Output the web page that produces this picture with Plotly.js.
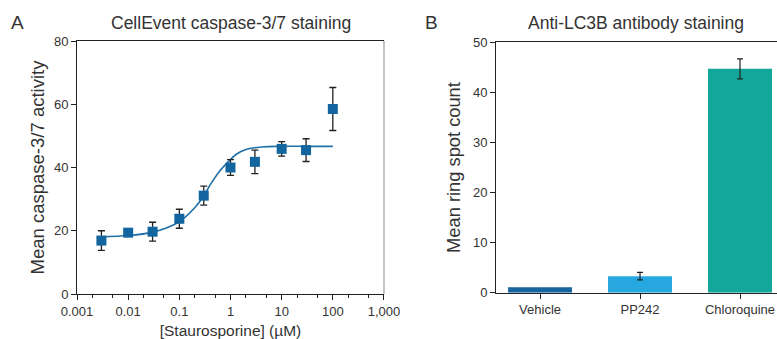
<!DOCTYPE html>
<html>
<head>
<meta charset="utf-8">
<script src="https://cdn.plot.ly/plotly-3.0.1.min.js"></script>
<style>html,body{margin:0;padding:0;background:#fff;}#chart{width:777px;height:339px;}</style>
</head>
<body>
<div id="chart"></div>
<script>
// Panel A: CellEvent caspase-3/7 staining
const concA = [0.003, 0.01, 0.03, 0.1, 0.3, 1, 3, 10, 30, 100];
const meanA = [16.9, 19.4, 19.7, 23.8, 31.1, 40.0, 41.8, 45.9, 45.5, 58.5];
const errA  = [3.1, 0.8, 3.0, 3.0, 3.0, 2.5, 3.7, 2.3, 3.6, 6.8];
// fitted curve
const fitX = [0.003, 0.01, 0.03, 0.05, 0.1, 0.2, 0.3, 0.4, 0.6, 0.9, 1.3, 2, 4, 10, 30, 100];
const fitY = [18.1, 18.5, 19.5, 20.6, 22.9, 27.3, 31.0, 34.5, 38.7, 41.8, 44.2, 45.7, 46.5, 46.7, 46.7, 46.7];
const xTickVals = [0.001, 0.01, 0.1, 1, 10, 100, 1000];
const xTickText = ["0.001", "0.01", "0.1", "1", "10", "100", "1,000"];

// Panel B: Anti-LC3B antibody staining
const treatments = ["Vehicle", "PP242", "Chloroquine"];
const spotCount = [1.1, 3.3, 44.7];
const spotErr = [NaN, 0.75, 2.0];
const barColors = ["#17669f", "#27a8e0", "#12a89c"];

const FONT = "Liberation Sans, Arial, Helvetica, sans-serif";
const TXT = "#333333";

const traces = [
  {
    x: fitX, y: fitY, type: "scatter", mode: "lines",
    line: {color: "#1f70a6", width: 1.6, shape: "spline", smoothing: 1},
    xaxis: "x", yaxis: "y", hoverinfo: "skip", showlegend: false
  },
  {
    x: concA, y: meanA, type: "scatter", mode: "markers",
    marker: {symbol: "square", size: 10, color: "#12659e"},
    error_y: {type: "data", array: errA, visible: true, color: "#222222", thickness: 1.3, width: 3.5},
    xaxis: "x", yaxis: "y", showlegend: false
  },
  {
    x: treatments, y: spotCount, type: "bar",
    marker: {color: barColors, line: {width: 0}},
    width: 0.64,
    error_y: {type: "data", array: spotErr, visible: true, color: "#222222", thickness: 1.2, width: 3},
    xaxis: "x2", yaxis: "y2", showlegend: false
  }
];

const axisCommon = {
  showgrid: false, zeroline: false, showline: true,
  linecolor: "#222222", linewidth: 1,
  ticks: "outside", ticklen: 5, tickwidth: 1, tickcolor: "#222222",
  tickfont: {family: FONT, size: 13, color: TXT}
};

const layout = {
  width: 777, height: 339,
  margin: {l: 0, r: 0, t: 0, b: 0},
  paper_bgcolor: "#ffffff", plot_bgcolor: "#ffffff",
  font: {family: FONT, color: TXT},
  showlegend: false,
  xaxis: Object.assign({}, axisCommon, {
    type: "log", domain: [0.0991, 0.4942],
    range: [-3, 3], mirror: true,
    tickvals: xTickVals, ticktext: xTickText,
    minor: {ticks: "outside", ticklen: 3, tickcolor: "#222222", tickwidth: 1, showgrid: false},
    title: {text: "[Staurosporine] (µM)", font: {family: FONT, size: 15.5, color: TXT}, standoff: 8},
    anchor: "y"
  }),
  yaxis: Object.assign({}, axisCommon, {
    domain: [0.1327, 0.879], range: [0, 80], dtick: 20,
    title: {text: "Mean caspase-3/7 activity", font: {family: FONT, size: 18.5, color: TXT}, standoff: 4},
    anchor: "x"
  }),
  xaxis2: Object.assign({}, axisCommon, {
    type: "category", domain: [0.6384, 1],
    range: [-0.44, 2.37], mirror: true,
    title: {text: ""},
    anchor: "y2"
  }),
  yaxis2: Object.assign({}, axisCommon, {
    domain: [0.1366, 0.8752], range: [0, 50], dtick: 10,
    title: {text: "Mean ring spot count", font: {family: FONT, size: 18.3, color: TXT}, standoff: 7},
    anchor: "x2"
  }),
  shapes: [
    {type: "line", xref: "x domain", yref: "y domain", x0: 1, x1: 1, y0: 0, y1: 1,
     line: {color: "#8a8a8a", width: 1}}
  ],
  annotations: [
    {text: "CellEvent caspase-3/7 staining", xref: "paper", yref: "paper", x: 0.297, y: 0.932,
     xanchor: "center", yanchor: "middle", showarrow: false, font: {family: FONT, size: 17.5, color: TXT}},
    {text: "Anti-LC3B antibody staining", xref: "paper", yref: "paper", x: 0.818, y: 0.932,
     xanchor: "center", yanchor: "middle", showarrow: false, font: {family: FONT, size: 17.5, color: TXT}},
    {text: "A", xref: "paper", yref: "paper", x: 0.012, y: 0.935,
     xanchor: "left", yanchor: "middle", showarrow: false, font: {family: FONT, size: 19, color: TXT}},
    {text: "B", xref: "paper", yref: "paper", x: 0.545, y: 0.935,
     xanchor: "left", yanchor: "middle", showarrow: false, font: {family: FONT, size: 19, color: TXT}}
  ]
};

Plotly.newPlot("chart", traces, layout, {displayModeBar: false, staticPlot: true});
</script>
</body>
</html>
